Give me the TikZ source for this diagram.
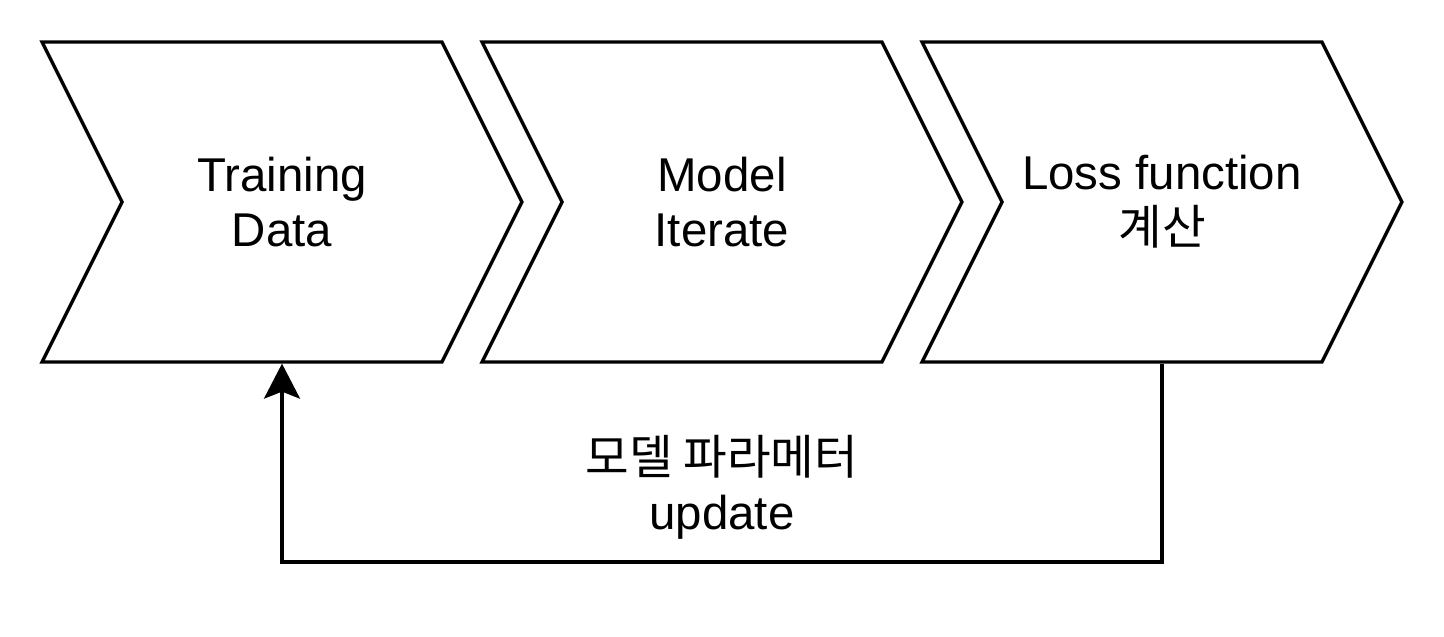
\documentclass[tikz,border=0pt]{standalone}
\usepackage{fontspec}
\setmainfont{Liberation Sans}
\newfontfamily\krfont{Noto Sans CJK KR}
\usepackage{tikz}
\usetikzlibrary{arrows.meta,positioning,shapes.symbols}

\begin{document}
\begin{tikzpicture}[
    x=0.02cm, y=-0.02cm,
    stage/.style={draw, signal, signal from=west, signal to=east, signal pointer angle=126.87,
        minimum width=9.6cm, minimum height=6.4cm, inner sep=0pt, line width=1.9pt,
        align=center, font=\fontsize{27}{31.3}\selectfont},
    arrow/.style={-{Stealth[length=0.7cm, width=0.72cm, inset=0.14cm]}, line width=1.9pt}
]
\useasboundingbox (0,0) rectangle (1444,636);

% The stages
\node[stage] (train) at (282, 202) {Training\\Data};
\node[stage] (model) at (722, 202) {Model\\Iterate};
\node[stage] (loss) at (1162, 202) {Loss function\\{\krfont 계산}};

% Feedback loop
\coordinate (low) at (722, 562);
\draw[arrow] (loss.south) -- (loss.south |- low) -| (train.south);
\node[align=center, font=\fontsize{27}{31.3}\selectfont] (update) at (722, 487) {{\krfont 모델 파라메터}\\update};

\end{tikzpicture}
\end{document}
